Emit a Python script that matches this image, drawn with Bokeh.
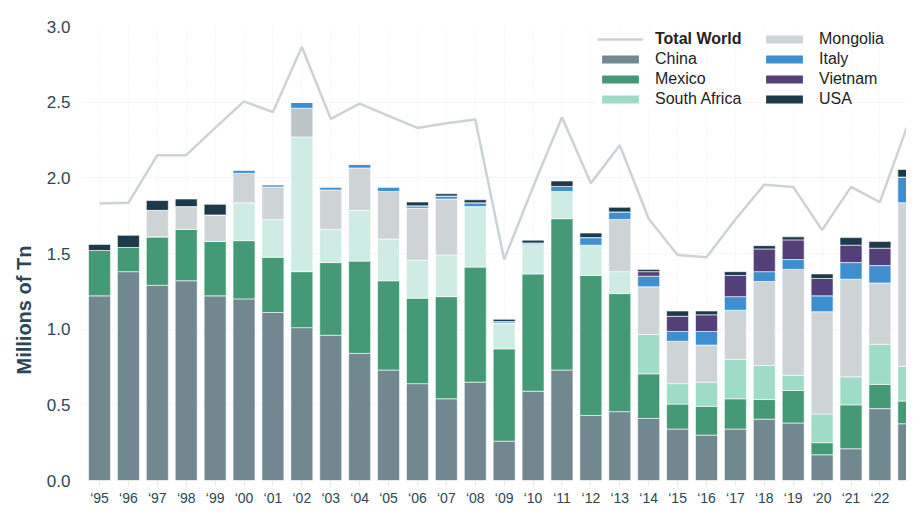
import numpy as np
from bokeh.plotting import figure
from bokeh.models import (ColumnDataSource, Legend, LegendItem, FixedTicker, Title)
from bokeh.embed import file_html
from bokeh.resources import INLINE

years = ["\u201895", "\u201896", "\u201897", "\u201898", "\u201899", "\u201800", "\u201801", "\u201802",
         "\u201803", "\u201804", "\u201805", "\u201806", "\u201807", "\u201808", "\u201809", "\u201810",
         "\u201811", "\u201812", "\u201813", "\u201814", "\u201815", "\u201816", "\u201817", "\u201818",
         "\u201819", "\u201820", "\u201821", "\u201822", "\u201823"]

china = [1.22, 1.38, 1.29, 1.32, 1.22, 1.20, 1.11, 1.01, 0.96, 0.84, 0.73, 0.64, 0.54, 0.65, 0.26,
         0.59, 0.73, 0.43, 0.455, 0.41, 0.34, 0.30, 0.34, 0.405, 0.38, 0.17, 0.21, 0.475, 0.375]
mexico = [0.30, 0.16, 0.32, 0.34, 0.36, 0.385, 0.365, 0.37, 0.48, 0.61, 0.59, 0.565, 0.675, 0.76, 0.61,
          0.775, 1.00, 0.925, 0.78, 0.295, 0.165, 0.19, 0.20, 0.13, 0.215, 0.08, 0.29, 0.16, 0.15]
south_africa = [0, 0, 0, 0, 0, 0.25, 0.25, 0.89, 0.22, 0.335, 0.275, 0.25, 0.275, 0.40, 0.17,
                0.195, 0.18, 0.20, 0.145, 0.26, 0.135, 0.16, 0.26, 0.225, 0.10, 0.19, 0.185, 0.265, 0.23]
mongolia = [0, 0, 0.175, 0.15, 0.175, 0.195, 0.215, 0.19, 0.26, 0.28, 0.315, 0.345, 0.37, 0, 0,
            0, 0, 0, 0.345, 0.315, 0.28, 0.245, 0.325, 0.555, 0.70, 0.675, 0.645, 0.405, 1.08]
italy = [0, 0, 0, 0, 0, 0.022, 0.015, 0.04, 0.02, 0.025, 0.03, 0.015, 0.02, 0.025, 0.01,
         0.01, 0.033, 0.05, 0.05, 0.07, 0.065, 0.09, 0.09, 0.065, 0.065, 0.105, 0.11, 0.115, 0.17]
vietnam = [0, 0, 0, 0, 0, 0, 0, 0, 0, 0, 0, 0, 0, 0, 0,
           0, 0, 0, 0, 0.03, 0.10, 0.11, 0.14, 0.15, 0.13, 0.115, 0.115, 0.115, 0]
usa = [0.04, 0.08, 0.065, 0.05, 0.07, 0, 0, 0, 0, 0, 0, 0.025, 0.015, 0.02, 0.015,
       0.018, 0.036, 0.03, 0.03, 0.015, 0.035, 0.025, 0.025, 0.022, 0.02, 0.03, 0.05, 0.045, 0.05]
total_world = [1.83, 1.835, 2.15, 2.15, 2.33, 2.505, 2.435, 2.865, 2.39, 2.49, 2.41, 2.33, 2.36, 2.385,
               1.46, 1.94, 2.40, 1.965, 2.215, 1.73, 1.49, 1.475, 1.725, 1.955, 1.94, 1.655, 1.94, 1.84, 2.37]

series_names = ["China", "Mexico", "South Africa", "Mongolia", "Italy", "Vietnam", "USA"]
series_vals = [china, mexico, south_africa, mongolia, italy, vietnam, usa]
series_colors = ["#718891", "#449a76", "#9edcc8", "#ced3d5", "#3e8fd0", "#553f78", "#1d3a4b"]

n = len(years)
xs = np.arange(n)

# per-bar colour tweaks seen in the picture (South Africa paler before 2014, Mongolia darker in 2002)
sa_colors = ["#cfece4" if i < 19 else "#9edcc8" for i in range(n)]
mo_colors = ["#bbc5c8" if i == 7 else "#ced3d5" for i in range(n)]

TXT = "#2b4656"
FONT = "Liberation Sans"

p = figure(width=906, height=508, output_backend="svg", toolbar_location=None,
           x_range=(-0.623, 27.92), y_range=(0, 3.0),
           min_border_left=81, min_border_right=0, min_border_top=26, min_border_bottom=24)
p.outline_line_color = None
p.background_fill_color = "white"

# total world line
line_r = p.line(xs, total_world, line_color="#cbd3d6", line_width=2.5)

bottom = np.zeros(n)
for name, vals, col in zip(series_names, series_vals, series_colors):
    v = np.array(vals, dtype=float)
    top = bottom + v
    if name == "South Africa":
        cols = sa_colors
    elif name == "Mongolia":
        cols = mo_colors
    else:
        cols = [col] * n
    src = ColumnDataSource(dict(x=xs, bottom=bottom.copy(), top=top.copy(), c=cols))
    p.vbar(x="x", bottom="bottom", top="top", width=0.76, source=src,
           fill_color="c", line_color="white", line_width=0.6)
    bottom = top

# proxy renderers (off-screen) carrying legend colours
proxies = []
for col in series_colors:
    proxies.append(p.rect(x=[-10], y=[-10], width=0.1, height=0.1, fill_color=col, line_color=None))

# axes
p.yaxis.ticker = FixedTicker(ticks=[0, 0.5, 1.0, 1.5, 2.0, 2.5, 3.0])
p.yaxis.major_label_overrides = {0: "0.0", 0.5: "0.5", 1: "1.0", 1.5: "1.5", 2: "2.0", 2.5: "2.5", 3: "3.0"}
p.yaxis.axis_line_color = None
p.yaxis.major_tick_line_color = None
p.yaxis.minor_tick_line_color = None
p.yaxis.major_label_text_font = FONT
p.yaxis.major_label_text_font_size = "17px"
p.yaxis.major_label_text_color = TXT
p.yaxis.major_label_standoff = 5

p.xaxis.ticker = FixedTicker(ticks=list(range(n)))
p.xaxis.major_label_overrides = {i: years[i] for i in range(n)}
p.xaxis.axis_line_color = None
p.xaxis.major_tick_line_color = "#e3e7e9"
p.xaxis.major_tick_out = 5
p.xaxis.major_tick_in = 0
p.xaxis.minor_tick_line_color = None
p.xaxis.major_label_text_font = FONT
p.xaxis.major_label_text_font_size = "14px"
p.xaxis.major_label_text_color = TXT
p.xaxis.major_label_standoff = 4

p.ygrid.grid_line_color = "#dde3e6"
p.ygrid.grid_line_dash = "1 2"
p.ygrid.grid_line_width = 1
p.xgrid.grid_line_color = "#e6ebed"
p.xgrid.grid_line_dash = "1 2"
p.xgrid.grid_line_width = 1

ytitle = Title(text="Millions of Tn", align="left", offset=106, standoff=18,
               text_font=FONT, text_font_size="20px", text_font_style="bold", text_color=TXT)
p.add_layout(ytitle, "left")

common = dict(glyph_width=46, glyph_height=10, label_height=17, spacing=0, label_standoff=12,
              padding=0, margin=0, border_line_color=None, background_fill_color="white",
              background_fill_alpha=1.0, label_text_font=FONT, label_text_font_size="16px",
              label_text_color="#222222")

col1 = [("Total World", line_r, True), ("China", proxies[0], False), ("Mexico", proxies[1], False),
        ("South Africa", proxies[2], False)]
col2 = [("Mongolia", proxies[3], False), ("Italy", proxies[4], False), ("Vietnam", proxies[5], False),
        ("USA", proxies[6], False)]
row_y = [432, 412, 392, 372]
for colx, items in ((516, col1), (680, col2)):
    for (lab, rend, bold), yy in zip(items, row_y):
        lg = Legend(items=[LegendItem(label=lab, renderers=[rend])], location=(colx, yy),
                    label_text_font_style="bold" if bold else "normal", **common)
        p.add_layout(lg)

open("out.html", "w").write(file_html(p, INLINE))
